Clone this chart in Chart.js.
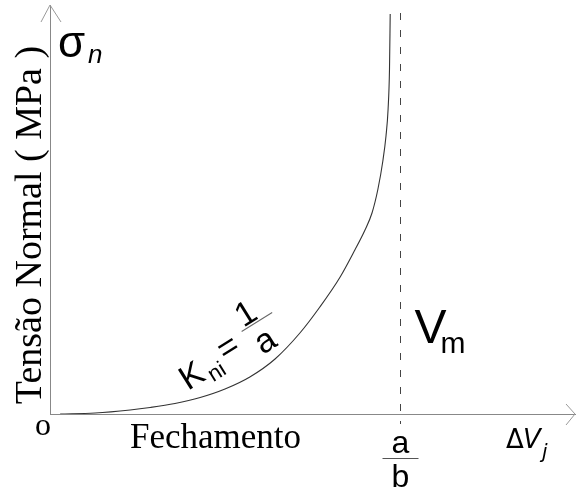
<!DOCTYPE html>
<html>
<head>
<meta charset="utf-8">
<script src="https://cdn.jsdelivr.net/npm/chart.js@4.4.1/dist/chart.umd.min.js"></script>
<style>
  html, body { margin: 0; padding: 0; background: #fff; }
  canvas { display: block; }
</style>
</head>
<body>
<canvas id="curva-fechamento" width="576" height="492"></canvas>
<script>
// Fechamento normal da junta (ΔVj) x tensão normal (σn)
const fechamento = [0.029, 0.129, 0.229, 0.286, 0.357, 0.429, 0.500, 0.571, 0.643, 0.714, 0.771,
                    0.829, 0.871, 0.900, 0.920, 0.937, 0.951, 0.960, 0.966, 0.970, 0.972];
const tensaoNormal = [0.000, 0.024, 0.098, 0.159, 0.257, 0.403, 0.611, 0.905, 1.345, 1.980, 2.616,
                      3.350, 4.010, 4.499, 4.914, 5.501, 6.186, 6.797, 7.457, 8.435, 9.780];
const limiteX = [0, 1.5];
const limiteY = [0, 10];
const assintota = 1.0; // Vm = a/b

const serif = '"Liberation Serif", "Times New Roman", serif';
const sans = '"Liberation Sans", Arial, sans-serif';
const dejavu = '"DejaVu Sans", Verdana, sans-serif';

// setas, linha tracejada e textos do gráfico
const anotacoes = {
  id: 'anotacoes',
  afterDraw(chart) {
    const ctx = chart.ctx;
    const area = chart.chartArea;
    const sx = chart.scales.x;
    ctx.save();

    // setas dos eixos
    ctx.strokeStyle = '#999';
    ctx.lineWidth = 1;
    ctx.beginPath();
    ctx.moveTo(area.left - 9, area.top + 17);
    ctx.lineTo(area.left, area.top);
    ctx.lineTo(area.left + 11, area.top + 17);
    ctx.moveTo(area.right - 9, area.bottom - 10);
    ctx.lineTo(area.right, area.bottom);
    ctx.lineTo(area.right - 9, area.bottom + 11);
    ctx.stroke();

    // assíntota Vm
    const xa = Math.round(sx.getPixelForValue(assintota)) + 0.5;
    ctx.strokeStyle = '#444';
    ctx.setLineDash([7, 10]);
    ctx.beginPath();
    ctx.moveTo(xa, area.top + 8);
    ctx.lineTo(xa, area.bottom + 10);
    ctx.stroke();
    ctx.setLineDash([]);

    ctx.fillStyle = '#000';
    ctx.textBaseline = 'alphabetic';

    // título do eixo y
    ctx.save();
    ctx.translate(41, 225);
    ctx.rotate(-Math.PI / 2);
    ctx.textAlign = 'center';
    ctx.font = '38px ' + serif;
    ctx.fillText('Tensão Normal ( MPa )', 0, 0);
    ctx.restore();

    ctx.textAlign = 'left';
    // σn
    ctx.font = '44px ' + sans;
    ctx.fillText('σ', 58, 57);
    ctx.font = 'italic 26px ' + sans;
    ctx.fillText('n', 88, 63);

    // origem e eixo x
    ctx.font = '32px ' + serif;
    ctx.fillText('o', 35, 435);
    ctx.font = '35px ' + serif;
    ctx.fillText('Fechamento', 130, 448);

    // ΔVj
    ctx.font = '26px ' + dejavu;
    ctx.fillText('Δ', 506, 448);
    ctx.font = 'italic 26px ' + dejavu;
    ctx.fillText('V', 523, 448);
    ctx.font = 'italic 20px ' + dejavu;
    ctx.fillText('j', 542, 458);

    // a/b sob a assíntota
    ctx.textAlign = 'center';
    ctx.font = '32px ' + sans;
    ctx.fillText('a', xa, 453);
    ctx.fillText('b', xa, 487);
    ctx.strokeStyle = '#555';
    ctx.beginPath();
    ctx.moveTo(xa - 18, 458.5);
    ctx.lineTo(xa + 18, 458.5);
    ctx.stroke();

    // Vm
    ctx.textAlign = 'left';
    ctx.font = '48px ' + sans;
    ctx.fillText('V', xa + 14, 343);
    ctx.font = '30px ' + sans;
    ctx.fillText('m', xa + 40, 353);

    // Kni = 1/a ao longo da curva
    ctx.save();
    ctx.translate(188, 391);
    ctx.rotate(-32 * Math.PI / 180);
    ctx.font = '34px ' + sans;
    ctx.fillText('K', 0, 0);
    ctx.font = '22px ' + sans;
    ctx.fillText('ni', 26, 6);
    ctx.font = '34px ' + sans;
    ctx.textAlign = 'center';
    ctx.fillText('=', 57, -5);
    ctx.fillText('1', 90, -24);
    ctx.fillText('a', 92, 9);
    ctx.strokeStyle = '#666';
    ctx.beginPath();
    ctx.moveTo(77, -22);
    ctx.lineTo(113, -22);
    ctx.stroke();
    ctx.restore();

    ctx.restore();
  }
};

const ctx = document.getElementById('curva-fechamento').getContext('2d');
new Chart(ctx, {
  type: 'scatter',
  data: {
    datasets: [{
      data: fechamento.map((v, i) => ({ x: v, y: tensaoNormal[i] })),
      showLine: true,
      borderColor: '#333',
      borderWidth: 1.1,
      pointRadius: 0,
      cubicInterpolationMode: 'monotone',
      fill: false
    }]
  },
  options: {
    responsive: false,
    animation: false,
    layout: { padding: { left: 50, top: 5, right: 1, bottom: 78 } },
    plugins: { legend: { display: false }, tooltip: { enabled: false } },
    scales: {
      x: {
        type: 'linear', min: limiteX[0], max: limiteX[1],
        grid: { display: false, drawTicks: false },
        ticks: { display: false },
        border: { display: true, color: '#888', width: 1 }
      },
      y: {
        type: 'linear', min: limiteY[0], max: limiteY[1],
        grid: { display: false, drawTicks: false },
        ticks: { display: false },
        border: { display: true, color: '#888', width: 1 }
      }
    }
  },
  plugins: [anotacoes]
});
</script>
</body>
</html>
